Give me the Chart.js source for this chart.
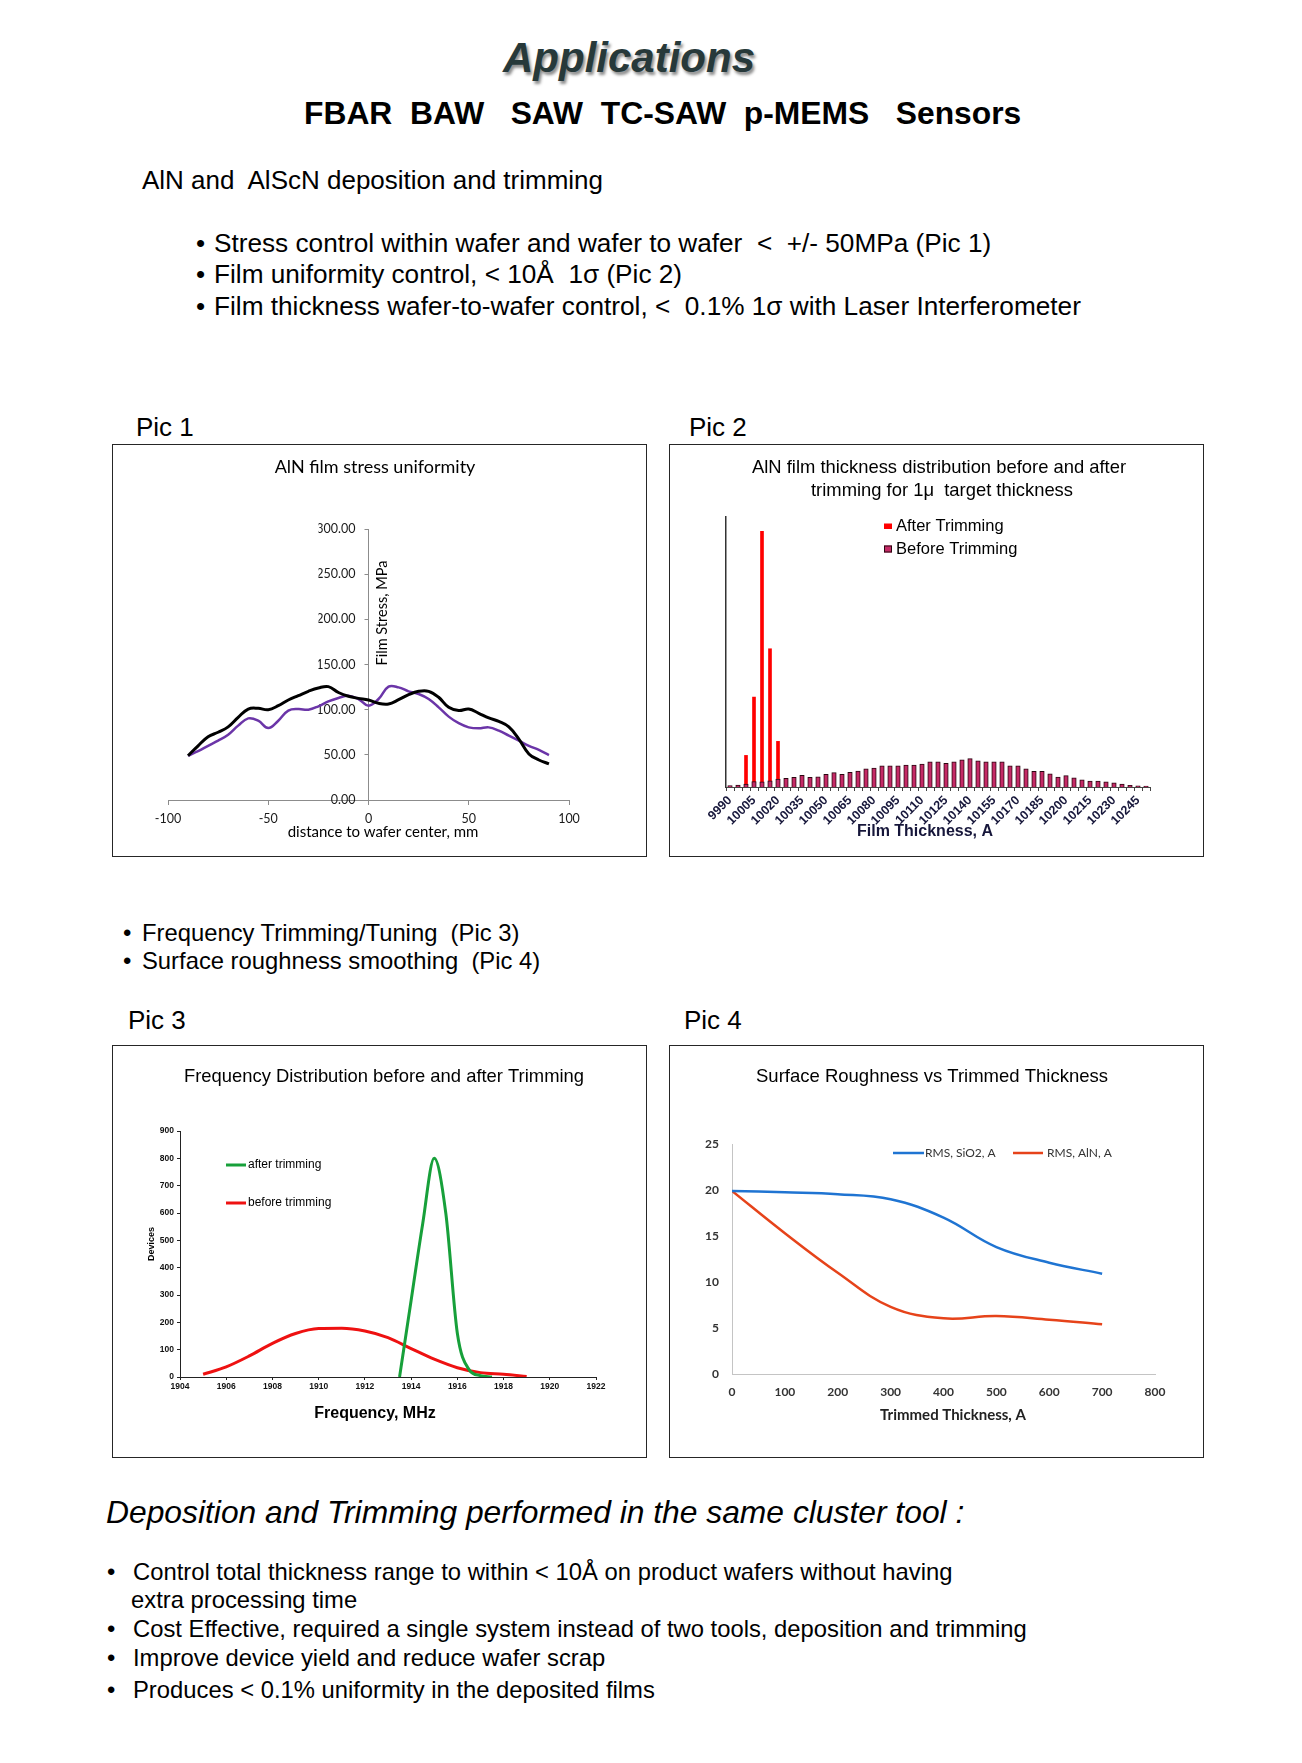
<!DOCTYPE html>
<html>
<head>
<meta charset="utf-8">
<script src="https://cdn.jsdelivr.net/npm/chart.js@4.4.0/dist/chart.umd.min.js"></script>
<style>
  body {
    margin: 0;
    width: 1302px;
    height: 1763px;
    background: #fff;
    position: relative;
    overflow: hidden;
    font-family: "Liberation Sans", Arial, sans-serif;
    color: #000;
  }
  .t { position: absolute; white-space: pre; line-height: 1; }
  .box {
    position: absolute;
    border: 1px solid #262626;
    box-sizing: border-box;
    width: 535px;
    height: 413px;
  }
  canvas { position: absolute; }
</style>
</head>
<body>
<div class="box" style="left:112px; top:444px"></div>
<div class="box" style="left:669px; top:444px"></div>
<div class="box" style="left:112px; top:1045px"></div>
<div class="box" style="left:669px; top:1045px"></div>
<canvas id="pic1" width="535" height="413" style="left:112px; top:444px"></canvas>
<canvas id="pic2" width="535" height="413" style="left:669px; top:444px"></canvas>
<canvas id="pic3" width="535" height="413" style="left:112px; top:1045px"></canvas>
<canvas id="pic4" width="535" height="413" style="left:669px; top:1045px"></canvas>

<script>
// ---- Pic 1: film stress across the wafer ----
const stressPos = [-90, -85, -80, -75, -70, -65, -60, -55, -50, -45, -40, -35, -30, -25, -20, -15, -10, -5, 0,
  5, 10, 15, 20, 25, 30, 35, 40, 45, 50, 55, 60, 65, 70, 75, 80, 85, 90];
const stressBlack = [49, 60, 70, 75, 81, 91.5, 100.7, 101.5, 100, 104.4, 110.7, 115.5, 120.3, 124, 125.5, 119, 114.8, 112.5, 110.7,
  107, 106.3, 111, 116.6, 120.3, 120.3, 113.7, 102.6, 99, 100.7, 96, 90.8, 87, 81, 67.5, 51, 44.3, 40];
const stressPurple = [49, 54, 60, 65.7, 72.3, 82.3, 90.4, 87.8, 79.7, 87.8, 99, 100.7, 100, 103.7, 109.2, 113, 115.5, 111.8, 104.4,
  111.8, 125.5, 124.7, 120.3, 117.3, 111.8, 102.6, 92.3, 85, 80.4, 79.3, 80.4, 76.8, 71.2, 65.7, 60, 55.4, 49.8];

// ---- Pic 2: thickness histogram ----
const thickness = ["9990", "9995", "10000", "10005", "10010", "10015", "10020", "10025", "10030", "10035",
  "10040", "10045", "10050", "10055", "10060", "10065", "10070", "10075", "10080", "10085",
  "10090", "10095", "10100", "10105", "10110", "10115", "10120", "10125", "10130", "10135",
  "10140", "10145", "10150", "10155", "10160", "10165", "10170", "10175", "10180", "10185",
  "10190", "10195", "10200", "10205", "10210", "10215", "10220", "10225", "10230", "10235",
  "10240", "10245", "10250"];
const beforeTrim = [0.5, 0.7, 1.1, 2.0, 1.9, 2.3, 2.9, 3.2, 3.6, 4.3,
  3.6, 3.8, 4.7, 5.3, 4.7, 5.4, 5.9, 6.7, 7.0, 7.8,
  7.8, 7.8, 8.1, 8.1, 8.5, 9.3, 9.3, 8.8, 9.3, 10.1,
  10.5, 9.7, 9.3, 9.3, 9.3, 7.8, 7.8, 6.7, 5.8, 5.8,
  4.9, 3.7, 4.2, 3.4, 2.7, 2.2, 2.2, 1.9, 1.5, 1.1,
  0.6, 0.4, 0.3];
const afterTrim = [0, 0, 11.7, 33.3, 94.7, 51.2, 16.9, 0, 0, 0,
  0, 0, 0, 0, 0, 0, 0, 0, 0, 0,
  0, 0, 0, 0, 0, 0, 0, 0, 0, 0,
  0, 0, 0, 0, 0, 0, 0, 0, 0, 0,
  0, 0, 0, 0, 0, 0, 0, 0, 0, 0,
  0, 0, 0];

// ---- Pic 3: frequency distribution ----
const freqBefore = [1905, 1906, 1907, 1908, 1909, 1910, 1911, 1912, 1913, 1914, 1915, 1916, 1917, 1918, 1919];
const devBefore = [10, 37, 77, 123, 159, 177, 178, 168, 144, 104, 65, 34, 16, 10, 2];
const freqAfter = [1913.5, 1914, 1914.5, 1915, 1915.5, 1916, 1916.5, 1917, 1917.5];
const devAfter = [0, 280, 560, 800, 600, 160, 28, 5, 0];

// ---- Pic 4: roughness vs trimmed thickness ----
const trimmed = [0, 100, 200, 300, 400, 500, 600, 700];
const rmsSiO2 = [19.9, 19.75, 19.55, 19.0, 17.0, 13.8, 12.1, 10.9];
const rmsAlN = [19.9, 15.3, 11.0, 7.3, 6.05, 6.3, 5.9, 5.4];

// slide text
function put(txt, x, cy, size, extra) {
  let d = document.createElement("div");
  d.className = "t";
  d.textContent = txt;
  d.style.left = x + "px";
  d.style.top = (cy - 0.49 * size) + "px";
  d.style.fontSize = size + "px";
  if (extra) Object.assign(d.style, extra);
  document.body.appendChild(d);
}

put("Applications", 629, 58, 42, {
  fontWeight: "bold", fontStyle: "italic", color: "#27393a",
  transform: "translateX(-50%)", textShadow: "2px 3px 3px rgba(0,0,0,0.45)"
});
put("FBAR  BAW   SAW  TC-SAW  p-MEMS   Sensors", 304, 114, 31.8, { fontWeight: "bold" });
put("AlN and  AlScN deposition and trimming", 142, 180, 26);
put("\u2022", 196, 243, 26);
put("Stress control within wafer and wafer to wafer  <  +/- 50MPa (Pic 1)", 214, 243, 26.2);
put("\u2022", 196, 274, 26);
put("Film uniformity control, < 10\u00c5  1\u03c3 (Pic 2)", 214, 274, 26.2);
put("\u2022", 196, 306, 26);
put("Film thickness wafer-to-wafer control, <  0.1% 1\u03c3 with Laser Interferometer", 214, 306, 26.2);
put("Pic 1", 136, 427, 26);
put("Pic 2", 689, 427, 26);
put("\u2022", 123, 933, 24);
put("Frequency Trimming/Tuning  (Pic 3)", 142, 933, 23.8);
put("\u2022", 123, 961, 24);
put("Surface roughness smoothing  (Pic 4)", 142, 961, 23.8);
put("Pic 3", 128, 1020, 26);
put("Pic 4", 684, 1020, 26);
put("Deposition and Trimming performed in the same cluster tool :", 106, 1513, 31.8, { fontStyle: "italic" });
put("\u2022", 107, 1572, 23.8);
put("Control total thickness range to within < 10\u00c5 on product wafers without having", 133, 1572, 23.8);
put("extra processing time", 131, 1600, 23.8);
put("\u2022", 107, 1629, 23.8);
put("Cost Effective, required a single system instead of two tools, deposition and trimming", 133, 1629, 23.8);
put("\u2022", 107, 1658, 23.8);
put("Improve device yield and reduce wafer scrap", 133, 1658, 23.8);
put("\u2022", 107, 1690, 23.8);
put("Produces < 0.1% uniformity in the deposited films", 133, 1690, 23.8);

// titles, axis titles and in-plot legends, per canvas
const notes = {
  pic1: {
    texts: [
      { text: "AlN film stress uniformity", x: 263, y: 23, font: "18px Lato" },
      { text: "Film Stress, MPa", x: 270, y: 169, font: "14.5px Lato", rotate: -Math.PI / 2 },
      { text: "distance to wafer center, mm", x: 271, y: 388, font: "15px Lato" },
    ],
    keys: [],
  },
  pic2: {
    texts: [
      { text: "AlN film thickness distribution before and after", x: 270, y: 24, font: "18.4px 'Liberation Sans'" },
      { text: "trimming for 1\u03bc  target thickness", x: 273, y: 47, font: "18.4px 'Liberation Sans'" },
      { text: "After Trimming", x: 227, y: 82, font: "16.5px 'Liberation Sans'", align: "left" },
      { text: "Before Trimming", x: 227, y: 105, font: "16.5px 'Liberation Sans'", align: "left" },
      { text: "Film Thickness, A", x: 256, y: 388, font: "bold 16px 'Liberation Sans'", color: "#16163a" },
    ],
    keys: [
      { ds: 1, kind: "rect", x: 215, y: 79.5, w: 8, h: 5.5 },
      { ds: 0, kind: "rect", x: 215, y: 101.5, w: 8, h: 7 },
    ],
  },
  pic3: {
    texts: [
      { text: "Frequency Distribution before and after Trimming", x: 272, y: 32, font: "18.4px 'Liberation Sans'" },
      { text: "after trimming", x: 136, y: 120, font: "12px 'Liberation Sans'", align: "left" },
      { text: "before trimming", x: 136, y: 158, font: "12px 'Liberation Sans'", align: "left" },
      { text: "Devices", x: 40, y: 199, font: "bold 9px 'Liberation Sans'", rotate: -Math.PI / 2 },
      { text: "Frequency, MHz", x: 263, y: 369, font: "bold 16px 'Liberation Sans'" },
    ],
    keys: [
      { ds: 0, kind: "line", x1: 114, x2: 134, y: 120 },
      { ds: 1, kind: "line", x1: 114, x2: 134, y: 158 },
    ],
  },
  pic4: {
    texts: [
      { text: "Surface Roughness vs Trimmed Thickness", x: 263, y: 32, font: "18.5px 'Liberation Sans'" },
      { text: "RMS, SiO2, A", x: 256, y: 108, font: "12px Lato", align: "left", color: "#333" },
      { text: "RMS, AlN, A", x: 378, y: 108, font: "12px Lato", align: "left", color: "#333" },
      { text: "Trimmed Thickness, A", x: 284, y: 370, font: "bold 15px Lato", color: "#222" },
    ],
    keys: [
      { ds: 0, kind: "line", x1: 224, x2: 255, y: 108 },
      { ds: 1, kind: "line", x1: 344, x2: 374, y: 108 },
    ],
  },
};

const boxText = {
  id: "boxText",
  afterDraw(chart) {
    let n = notes[chart.canvas.id];
    if (!n) return;
    let ctx = chart.ctx;
    n.keys.forEach(function (k) {
      let ds = chart.data.datasets[k.ds];
      ctx.save();
      if (k.kind === "line") {
        ctx.strokeStyle = ds.borderColor;
        ctx.lineWidth = ds.borderWidth;
        ctx.beginPath();
        ctx.moveTo(k.x1, k.y);
        ctx.lineTo(k.x2, k.y);
        ctx.stroke();
      } else {
        ctx.fillStyle = ds.backgroundColor;
        ctx.fillRect(k.x, k.y, k.w, k.h);
        if (ds.borderWidth) {
          ctx.strokeStyle = ds.borderColor;
          ctx.lineWidth = 1;
          ctx.strokeRect(k.x + 0.5, k.y + 0.5, k.w - 1, k.h - 1);
        }
      }
      ctx.restore();
    });
    n.texts.forEach(function (it) {
      ctx.save();
      ctx.font = it.font;
      ctx.fillStyle = it.color || "#000";
      ctx.textAlign = it.align || "center";
      ctx.textBaseline = "middle";
      ctx.translate(it.x, it.y);
      if (it.rotate) ctx.rotate(it.rotate);
      ctx.fillText(it.text, 0, 0);
      ctx.restore();
    });
  },
};
Chart.register(boxText);

// fixed axis sizes, so padding + axis size give the plot area exactly
function fixHeight(h) { return function (scale) { scale.height = h; }; }
function fixWidth(w) { return function (scale) { scale.width = w; }; }

function points(xs, ys) {
  return xs.map(function (x, i) { return { x: x, y: ys[i] }; });
}

function plain(v) { return String(v); }

const quiet = { legend: { display: false }, tooltip: { enabled: false } };

// Pic 1 - y axis is moved to cross the x axis at 0
const yAtZero = {
  id: "yAtZero",
  afterLayout(chart) {
    let y = chart.scales.y;
    let dx = chart.scales.x.getPixelForValue(0) - y.right;
    y.left += dx;
    y.right += dx;
  },
};

new Chart(document.getElementById("pic1"), {
  type: "line",
  data: {
    datasets: [
      { data: points(stressPos, stressBlack), borderColor: "#000000", borderWidth: 3, pointRadius: 0, tension: 0.4 },
      { data: points(stressPos, stressPurple), borderColor: "#6b35a8", borderWidth: 2.5, pointRadius: 0, tension: 0.4 },
    ],
  },
  options: {
    responsive: false,
    animation: false,
    devicePixelRatio: 1,
    layout: { padding: { left: 6, right: 78, top: 85, bottom: 2 } },
    plugins: quiet,
    scales: {
      x: {
        type: "linear",
        min: -100,
        max: 100,
        ticks: { stepSize: 50, padding: 6, color: "#1a1a1a", font: { family: "Lato", size: 12.5 }, callback: plain },
        grid: { drawOnChartArea: false, tickLength: 5, color: "#8c8c8c" },
        border: { color: "#8c8c8c" },
        afterFit: fixHeight(55),
      },
      y: {
        type: "linear",
        position: "left",
        min: 0,
        max: 300,
        ticks: {
          stepSize: 50,
          padding: 9,
          color: "#1a1a1a",
          font: { family: "Lato", size: 12.5 },
          callback: function (v) { return v.toFixed(2); },
        },
        grid: { drawOnChartArea: false, tickLength: 4, color: "#8c8c8c" },
        border: { color: "#8c8c8c" },
        afterFit: fixWidth(50),
      },
    },
  },
  plugins: [yAtZero],
});

// Pic 2
new Chart(document.getElementById("pic2"), {
  type: "bar",
  data: {
    labels: thickness,
    datasets: [
      { label: "Before Trimming", data: beforeTrim, backgroundColor: "#c42a66", borderColor: "#2a0610", borderWidth: 1, barThickness: 4.5, grouped: false },
      { label: "After Trimming", data: afterTrim, backgroundColor: "#ff0000", borderWidth: 0, barThickness: 3, grouped: false },
    ],
  },
  options: {
    responsive: false,
    animation: false,
    devicePixelRatio: 1,
    layout: { padding: { left: 2, right: 54, top: 73, bottom: 2 } },
    plugins: quiet,
    scales: {
      x: {
        ticks: {
          autoSkip: false,
          minRotation: 45,
          maxRotation: 45,
          padding: 2,
          color: "#16163a",
          font: { family: "Liberation Sans", size: 12.5, weight: "bold" },
          callback: function (value, index) {
            return index % 3 === 0 ? this.getLabelForValue(value) : "";
          },
        },
        grid: { offset: true, drawOnChartArea: false, tickLength: 4, color: "#444" },
        border: { color: "#444" },
        afterFit: fixHeight(68),
      },
      y: {
        min: 0,
        max: 100,
        ticks: { display: false },
        grid: { display: false },
        border: { display: true, color: "#333", width: 1.5 },
        afterFit: fixWidth(55),
      },
    },
  },
});

// Pic 3
new Chart(document.getElementById("pic3"), {
  type: "line",
  data: {
    datasets: [
      { label: "after trimming", data: points(freqAfter, devAfter), borderColor: "#17a03a", borderWidth: 3, pointRadius: 0, cubicInterpolationMode: "monotone" },
      { label: "before trimming", data: points(freqBefore, devBefore), borderColor: "#ee1111", borderWidth: 3, pointRadius: 0, cubicInterpolationMode: "monotone" },
    ],
  },
  options: {
    responsive: false,
    animation: false,
    devicePixelRatio: 1,
    layout: { padding: { left: 2, right: 51, top: 86, bottom: 2 } },
    plugins: quiet,
    scales: {
      x: {
        type: "linear",
        min: 1904,
        max: 1922,
        ticks: { stepSize: 2, padding: 2, color: "#111", font: { family: "Liberation Sans", size: 8.5, weight: "bold" }, callback: plain },
        grid: { drawOnChartArea: false, tickLength: 3, color: "#222" },
        border: { color: "#222" },
        afterFit: fixHeight(79),
      },
      y: {
        min: 0,
        max: 900,
        ticks: { stepSize: 100, padding: 3, color: "#111", font: { family: "Liberation Sans", size: 8.5, weight: "bold" }, callback: plain },
        grid: { drawOnChartArea: false, tickLength: 3, color: "#222" },
        border: { color: "#222" },
        afterFit: fixWidth(66),
      },
    },
  },
});

// Pic 4
new Chart(document.getElementById("pic4"), {
  type: "line",
  data: {
    datasets: [
      { label: "RMS, SiO2, A", data: points(trimmed, rmsSiO2), borderColor: "#1f74d2", borderWidth: 2.5, pointRadius: 0, tension: 0.4 },
      { label: "RMS, AlN, A", data: points(trimmed, rmsAlN), borderColor: "#e6431a", borderWidth: 2.5, pointRadius: 0, tension: 0.4 },
    ],
  },
  options: {
    responsive: false,
    animation: false,
    devicePixelRatio: 1,
    layout: { padding: { left: 2, right: 49, top: 99, bottom: 2 } },
    plugins: quiet,
    scales: {
      x: {
        type: "linear",
        min: 0,
        max: 800,
        ticks: { stepSize: 100, padding: 11, color: "#333", font: { family: "Lato", size: 12, weight: "bold" }, callback: plain },
        grid: { display: false, drawTicks: false },
        border: { display: true, color: "#c4c4c4" },
        afterFit: fixHeight(82),
      },
      y: {
        min: 0,
        max: 25,
        ticks: { stepSize: 5, padding: 13, color: "#333", font: { family: "Lato", size: 12, weight: "bold" }, callback: plain },
        grid: { display: false, drawTicks: false },
        border: { display: true, color: "#c4c4c4" },
        afterFit: fixWidth(61),
      },
    },
  },
});
</script>
</body>
</html>
